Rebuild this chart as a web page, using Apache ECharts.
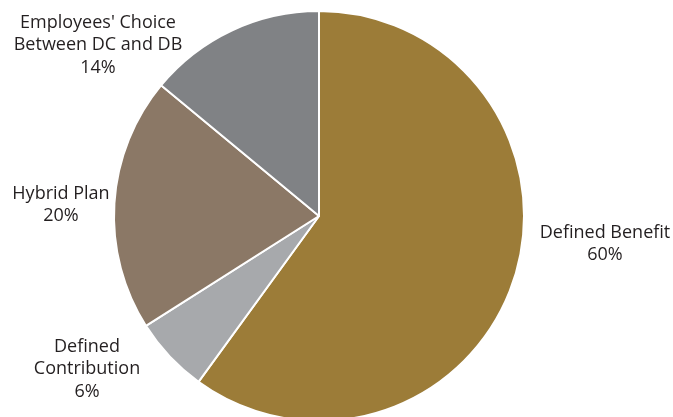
<!DOCTYPE html>
<html><head><meta charset="utf-8">
<script src="https://cdn.jsdelivr.net/npm/echarts@6/dist/echarts.min.js"></script>
<style>html,body{margin:0;padding:0;background:#fff}#c{width:673px;height:417px}</style>
</head><body><div id="c"></div>
<script>
const categories = ["Defined Benefit", "Defined\nContribution", "Hybrid Plan", "Employees' Choice\nBetween DC and DB"];
const values = [60, 6, 20, 14];
const colors = ["#9C7C38", "#A7A9AC", "#8B7866", "#808285"];
const labelAnchors = [[605, 244], [87, 369], [61, 205], [98, 45]];

const chart = echarts.init(document.getElementById('c'), null, {renderer: 'canvas'});
chart.setOption({
  animation: false,
  series: [{
    type: 'pie',
    center: [319, 216],
    radius: [0, 205],
    startAngle: 90,
    clockwise: true,
    data: categories.map((n, i) => ({name: n, value: values[i], itemStyle: {color: colors[i]}})),
    itemStyle: {borderColor: '#fff', borderWidth: 2},
    label: {
      show: true,
      position: 'outside',
      formatter: p => p.name + '\n' + p.value + '%',
      fontFamily: 'Open Sans',
      fontSize: 18,
      lineHeight: 22.5,
      color: '#231F20',
      align: 'center',
      overflow: 'none',
      width: 300
    },
    labelLine: {show: false},
    labelLayout: function (p) {
      const a = labelAnchors[p.dataIndex];
      return {x: a[0], y: a[1], align: 'center', verticalAlign: 'middle'};
    }
  }]
});
</script></body></html>
